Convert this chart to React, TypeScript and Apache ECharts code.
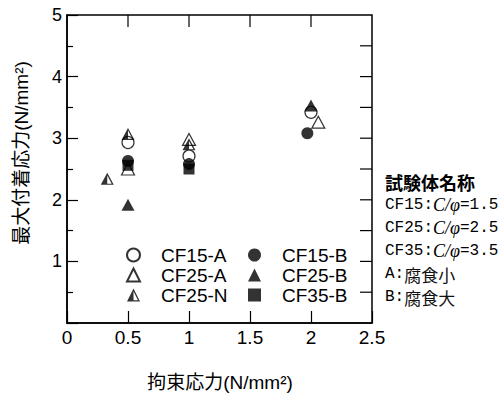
import React, { useEffect, useRef } from "react";
import * as echarts from "echarts";

// axis ranges / ticks
const X_MIN = 0;
const X_MAX = 2.5;
const X_STEP = 0.5;
const Y_MIN = 0;
const Y_MAX = 5;
const Y_STEP = 1;
const topTicks = [0.5, 1, 1.5, 2];
const rightTicks = [0.5, 1, 1.5, 2, 2.5, 3, 3.5, 4, 4.5];

// data: [拘束応力, 最大付着応力]
const cf15A = [[0.5, 2.93], [1, 2.71], [2, 3.42]];
const cf25A = [[0.5, 2.5], [1, 2.98], [2.06, 3.26]];
const cf25N = [[0.33, 2.34], [0.5, 3.07], [1, 2.9]];
const cf15B = [[0.5, 2.63], [1, 2.58], [1.97, 3.08]];
const cf25B = [[0.5, 1.92], [2, 3.53]];
const cf35B = [[0.5, 2.56], [1, 2.5]];

const legendCol1 = ["CF15-A", "CF25-A", "CF25-N"];
const legendCol2 = ["CF15-B", "CF25-B", "CF35-B"];

const xTitle = "拘束応力(N/mm²)";
const yTitle = "最大付着応力(N/mm²)";
const noteTitle = "試験体名称";
const noteRatios = [
  ["CF15:", "C/φ", "=1.5"],
  ["CF25:", "C/φ", "=2.5"],
  ["CF35:", "C/φ", "=3.5"],
];
const noteKeys = [
  ["A:", "腐食小"],
  ["B:", "腐食大"],
];

const HALF_TRI = "path://M50 0 L100 100 L0 100 Z M50 22 L50 90 L84 90 Z";
const SANS = '"Liberation Sans", Arial, "Noto Sans CJK JP", sans-serif';
const CJK = '"Noto Sans CJK JP", sans-serif';

export default function App() {
  const ref = useRef<HTMLDivElement>(null);
  useEffect(() => {
    if (!ref.current) return;
    const chart = echarts.init(ref.current, null, { renderer: "svg" });

    const open = { color: "#fff", borderColor: "#000", borderWidth: 1.2 };
    const filled = { color: "#000", borderColor: "#000", borderWidth: 0 };

    const legendBase = {
      orient: "vertical",
      top: 245,
      itemWidth: 13,
      itemHeight: 13,
      itemGap: 0,
      padding: 0,
      selectedMode: false,
      textStyle: {
        fontFamily: SANS,
        fontSize: 19,
        color: "#000",
        lineHeight: 20,
        padding: [0, 0, 0, 16],
      },
    };

    chart.setOption({
      animation: false,
      grid: {
        left: 67,
        right: 132,
        top: 15,
        bottom: 73,
        show: true,
        borderColor: "#000",
        borderWidth: 1.5,
      },
      xAxis: {
        type: "value",
        min: X_MIN,
        max: X_MAX,
        interval: X_STEP,
        axisLine: { show: true, lineStyle: { color: "#000", width: 1.5 } },
        axisTick: { show: true, inside: true, length: 12, lineStyle: { color: "#000", width: 1.2 } },
        axisLabel: { color: "#000", fontFamily: SANS, fontSize: 19, margin: 5 },
        splitLine: { show: false },
      },
      yAxis: {
        type: "value",
        min: Y_MIN,
        max: Y_MAX,
        interval: Y_STEP,
        axisLine: { show: true, lineStyle: { color: "#000", width: 1.5 } },
        axisTick: { show: true, inside: true, length: 11, lineStyle: { color: "#000", width: 1.2 } },
        minorTick: { show: true, splitNumber: 2, length: 6, lineStyle: { color: "#000", width: 1.2 } },
        axisLabel: { color: "#000", fontFamily: SANS, fontSize: 18, margin: 5, showMinLabel: false },
        splitLine: { show: false },
      },
      legend: [
        { ...legendBase, left: 126, data: legendCol1 },
        { ...legendBase, left: 248, data: legendCol2 },
      ],
      series: [
        { name: "CF15-A", type: "scatter", data: cf15A, symbol: "circle", symbolSize: 12, itemStyle: open },
        { name: "CF25-A", type: "scatter", data: cf25A, symbol: "triangle", symbolSize: [13, 12], itemStyle: open },
        { name: "CF25-N", type: "scatter", data: cf25N, symbol: HALF_TRI, symbolSize: [13, 12], itemStyle: filled },
        { name: "CF15-B", type: "scatter", data: cf15B, symbol: "circle", symbolSize: 12, itemStyle: filled },
        { name: "CF25-B", type: "scatter", data: cf25B, symbol: "triangle", symbolSize: [13, 12], itemStyle: filled },
        { name: "CF35-B", type: "scatter", data: cf35B, symbol: "rect", symbolSize: 11, itemStyle: filled },
      ],
    });

    // ticks on the top and right frame edges, placed through the chart's own scales
    const finder = { xAxisIndex: 0, yAxisIndex: 0 };
    const tickEls: any[] = [];
    topTicks.forEach((v) => {
      const p = chart.convertToPixel(finder, [v, Y_MAX]) as number[];
      tickEls.push({
        type: "line",
        silent: true,
        shape: { x1: p[0], y1: p[1], x2: p[0], y2: p[1] + 12 },
        style: { stroke: "#000", lineWidth: 1.2 },
      });
    });
    rightTicks.forEach((v) => {
      const p = chart.convertToPixel(finder, [X_MAX, v]) as number[];
      tickEls.push({
        type: "line",
        silent: true,
        shape: { x1: p[0] - 12, y1: p[1], x2: p[0], y2: p[1] },
        style: { stroke: "#000", lineWidth: 1.2 },
      });
    });

    const noteTexts: any[] = [];
    const noteX = 385;
    let y = 182;
    noteTexts.push({
      type: "text",
      x: noteX,
      y,
      style: {
        text: noteTitle,
        font: `bold 18px ${CJK}`,
        fill: "#000",
        verticalAlign: "middle",
      },
    });
    noteRatios.forEach((r) => {
      y += 23;
      noteTexts.push({
        type: "text",
        x: noteX,
        y,
        style: {
          text: `{m|${r[0]}}{i|${r[1]}}{m|${r[2]}}`,
          verticalAlign: "middle",
          fill: "#000",
          rich: {
            m: { fontFamily: '"Liberation Mono", monospace', fontSize: 16, fill: "#000", lineHeight: 18 },
            i: { fontFamily: '"Liberation Serif", serif', fontStyle: "italic", fontSize: 18, fill: "#000", lineHeight: 18 },
          },
        },
      });
    });
    noteKeys.forEach((k) => {
      y += 23;
      noteTexts.push({
        type: "text",
        x: noteX,
        y,
        style: {
          text: `{m|${k[0]}}{k|${k[1]}}`,
          verticalAlign: "middle",
          fill: "#000",
          rich: {
            m: { fontFamily: '"Liberation Mono", monospace', fontSize: 16, fill: "#000", lineHeight: 18 },
            k: { fontFamily: CJK, fontSize: 17, fill: "#111", lineHeight: 18 },
          },
        },
      });
    });

    chart.setOption({
      graphic: [
        ...tickEls,
        {
          type: "text",
          x: 220,
          y: 382,
          style: {
            text: xTitle,
            font: `19px ${SANS}`,
            fill: "#000",
            align: "center",
            verticalAlign: "middle",
          },
        },
        {
          type: "text",
          x: 21,
          y: 153,
          rotation: Math.PI / 2,
          style: {
            text: yTitle,
            font: `19px ${SANS}`,
            fill: "#000",
            align: "center",
            verticalAlign: "middle",
          },
        },
        ...noteTexts,
      ],
    });
    return () => chart.dispose();
  }, []);
  return (
    <div
      ref={ref}
      style={{ position: "fixed", left: 0, top: 0, width: 504, height: 396, background: "#fff" }}
    />
  );
}
